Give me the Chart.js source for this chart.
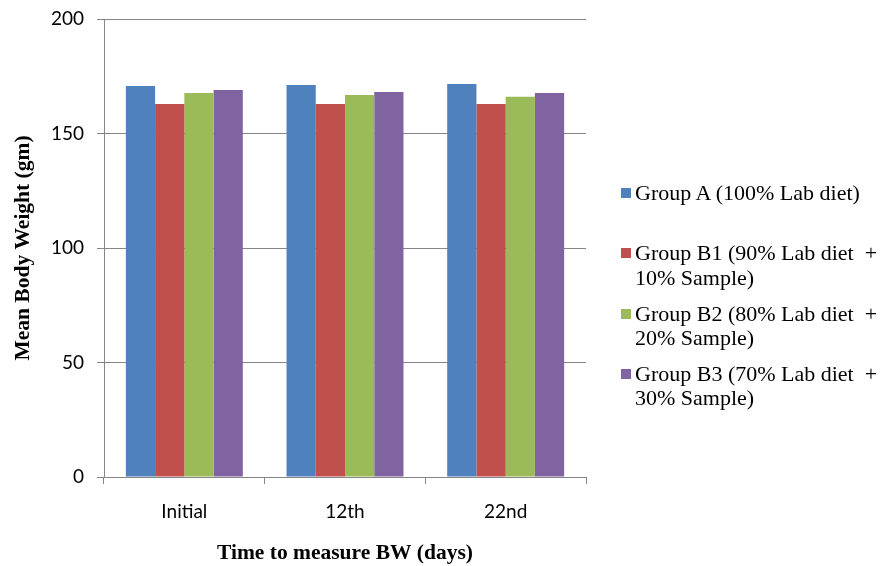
<!DOCTYPE html>
<html>
<head>
<meta charset="utf-8">
<script src="https://cdn.jsdelivr.net/npm/chart.js@4/dist/chart.umd.min.js"></script>
<style>
  html, body { margin: 0; padding: 0; background: #fff; }
  #wrap { position: relative; width: 885px; height: 566px; }
  #chart { position: absolute; left: 0; top: 0; }
  #legend { position: absolute; left: 621px; top: 181px; font-family: "Liberation Serif", "Times New Roman", serif; font-size: 22px; line-height: 24.5px; color: #000; }
  .item { position: absolute; left: 0; display: flex; align-items: flex-start; white-space: pre; }
  .swatch { width: 10px; height: 10px; margin-top: 7px; margin-right: 4px; flex: none; }
</style>
</head>
<body>
<div id="wrap">
  <canvas id="chart" width="885" height="566"></canvas>
  <div id="legend"></div>
</div>
<script>
// Measurement days
const categories = ['Initial', '12th', '22nd'];

// Mean body weight (gm) per group
const groupA  = [170.7, 171.2, 171.6];
const groupB1 = [162.9, 162.9, 162.9];
const groupB2 = [167.7, 166.8, 166.0];
const groupB3 = [169.0, 168.1, 167.7];

// Series names, split into the lines shown in the legend
const seriesNames = [
  ['Group A (100% Lab diet)'],
  ['Group B1 (90% Lab diet  +', '10% Sample)'],
  ['Group B2 (80% Lab diet  +', '20% Sample)'],
  ['Group B3 (70% Lab diet  +', '30% Sample)']
];
const seriesColors = ['#4F81BD', '#C0504D', '#9BBB59', '#8064A2'];

const yTicks = [0, 50, 100, 150, 200];

const seriesValues = [groupA, groupB1, groupB2, groupB3];
const axisGrey = '#868686';

const datasets = seriesValues.map((vals, i) => ({
  label: seriesNames[i].join(' '),
  data: vals,
  backgroundColor: seriesColors[i],
  borderWidth: 0,
  categoryPercentage: 0.728,
  barPercentage: 1.0
}));

// Fixed axis sizes; drop the label overflow padding so the plot area keeps its place
function fixScale(scale, size) {
  if (scale.isHorizontal()) scale.height = size; else scale.width = size;
  scale.paddingTop = 0;
  scale.paddingBottom = 0;
  scale.paddingLeft = 0;
  scale.paddingRight = 0;
}

new Chart(document.getElementById('chart'), {
  type: 'bar',
  data: { labels: categories, datasets },
  options: {
    responsive: false,
    animation: false,
    devicePixelRatio: 1,
    layout: { autoPadding: false, padding: { left: 0, top: 19, right: 299, bottom: 0 } },
    plugins: { legend: { display: false }, tooltip: { enabled: false } },
    scales: {
      x: {
        grid: { drawOnChartArea: false, drawTicks: true, tickLength: 7, color: axisGrey, offset: true },
        border: { display: true, color: axisGrey, width: 1 },
        ticks: { font: { family: 'Lato', size: 19 }, color: '#000', padding: 16, maxRotation: 0 },
        title: {
          display: true,
          text: 'Time to measure BW (days)',
          font: { family: 'Liberation Serif', size: 21.5, weight: 'bold' },
          color: '#000',
          padding: { top: 0, bottom: 0 }
        },
        afterFit: (scale) => fixScale(scale, 89)
      },
      y: {
        min: yTicks[0],
        max: yTicks[yTicks.length - 1],
        grid: { color: axisGrey, tickLength: 7, drawTicks: true },
        border: { display: true, color: axisGrey, width: 1 },
        ticks: {
          stepSize: yTicks[1] - yTicks[0],
          font: { family: 'Lato', size: 19 },
          color: '#000',
          padding: 13
        },
        afterBuildTicks: (scale) => { scale.ticks = yTicks.map(v => ({ value: v })); },
        title: {
          display: true,
          text: 'Mean Body Weight (gm)',
          font: { family: 'Liberation Serif', size: 21.5, weight: 'bold' },
          color: '#000',
          padding: { top: 11, bottom: 0 }
        },
        afterFit: (scale) => fixScale(scale, 104)
      }
    }
  }
});

// Legend drawn beside the plot
const legend = document.getElementById('legend');
seriesNames.forEach((lines, i) => {
  const item = document.createElement('div');
  item.className = 'item';
  item.style.top = (i * 60.3) + 'px';
  const sw = document.createElement('span');
  sw.className = 'swatch';
  sw.style.background = seriesColors[i];
  const txt = document.createElement('span');
  txt.textContent = lines.join('\n');
  item.appendChild(sw);
  item.appendChild(txt);
  legend.appendChild(item);
});
</script>
</body>
</html>
